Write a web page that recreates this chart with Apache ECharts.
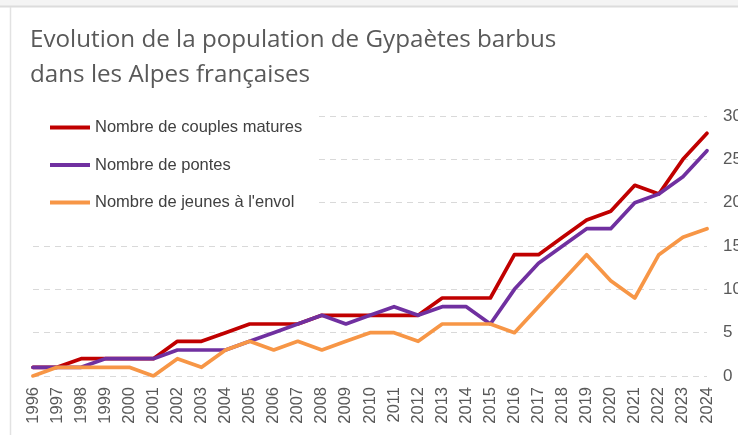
<!DOCTYPE html>
<html>
<head>
<meta charset="utf-8">
<script src="https://cdn.jsdelivr.net/npm/echarts@6/dist/echarts.min.js"></script>
<style>
html,body{margin:0;padding:0;background:#fff;}
#c{width:738px;height:435px;}
</style>
</head>
<body>
<div id="c"></div>
<script>
const years = ['1996','1997','1998','1999','2000','2001','2002','2003','2004','2005','2006','2007','2008','2009','2010','2011','2012','2013','2014','2015','2016','2017','2018','2019','2020','2021','2022','2023','2024'];
const couples = [1,1,2,2,2,2,4,4,5,6,6,6,7,7,7,7,7,9,9,9,14,14,16,18,19,22,21,25,28];
const pontes  = [1,1,1,2,2,2,3,3,3,4,5,6,7,6,7,8,7,8,8,6,10,13,15,17,17,20,21,23,26];
const jeunes  = [0,1,1,1,1,0,2,1,3,4,3,4,3,4,5,5,4,6,6,6,5,8,11,14,11,9,14,16,17];
const seriesNames = ['Nombre de couples matures','Nombre de pontes',"Nombre de jeunes à l'envol"];
const yTicks = [0,5,10,15,20,25,30];
const titleText = 'Evolution de la population de Gypaètes barbus\ndans les Alpes françaises';

const colors = ['#C00000','#7030A0','#F79646'];
const chart = echarts.init(document.getElementById('c'), null, {renderer:'canvas'});
const mk = (name, data, color) => ({
  name, type:'line', data, symbol:'none', smooth:false,
  lineStyle:{color, width:3.7, cap:'round', join:'round'},
  itemStyle:{color}, animation:false
});
chart.setOption({
  animation:false,
  backgroundColor:'#ffffff',
  graphic:[
    {type:'rect', shape:{x:0,y:0,width:738,height:6}, style:{fill:'#f4f4f4'}, z:-10},
    {type:'line', shape:{x1:0,y1:6.5,x2:738,y2:6.5}, style:{stroke:'#dcdcdc', lineWidth:2}, z:-9},
    {type:'line', shape:{x1:10.5,y1:7,x2:10.5,y2:435}, style:{stroke:'#e2e2e2', lineWidth:1.5}, z:-9}
  ],
  title:{
    text:titleText, left:25, top:18,
    textStyle:{fontFamily:"'Open Sans', 'Liberation Sans', sans-serif", fontSize:24.2, fontWeight:'normal', color:'#595959', lineHeight:35}
  },
  legend:{
    data:seriesNames, orient:'vertical', left:30, top:111,
    icon:'rect', itemWidth:40, itemHeight:4, itemGap:20.5,
    padding:[8,14,8,20], backgroundColor:'#ffffff', z:5,
    textStyle:{fontFamily:'Liberation Sans', fontSize:16.5, color:'#404040'}
  },
  grid:{left:33, right:31, top:116, bottom:59, containLabel:false, outerBoundsMode:'none'},
  xAxis:{
    type:'category', data:years, boundaryGap:false,
    axisLine:{show:false}, axisTick:{show:false},
    axisLabel:{rotate:90, margin:11, fontFamily:'Liberation Sans', fontSize:16.5, color:'#595959', interval:0}
  },
  yAxis:{
    type:'value', position:'right', min:yTicks[0], max:yTicks[yTicks.length-1], interval:5,
    axisLine:{show:false}, axisTick:{show:false},
    axisLabel:{margin:16, fontFamily:'Liberation Sans', fontSize:17, color:'#595959'},
    splitLine:{lineStyle:{color:'#d9d9d9', type:[6,5], width:1.2}}
  },
  series:[mk(seriesNames[0],couples,colors[0]), mk(seriesNames[1],pontes,colors[1]), mk(seriesNames[2],jeunes,colors[2])]
});
</script>
</body>
</html>
